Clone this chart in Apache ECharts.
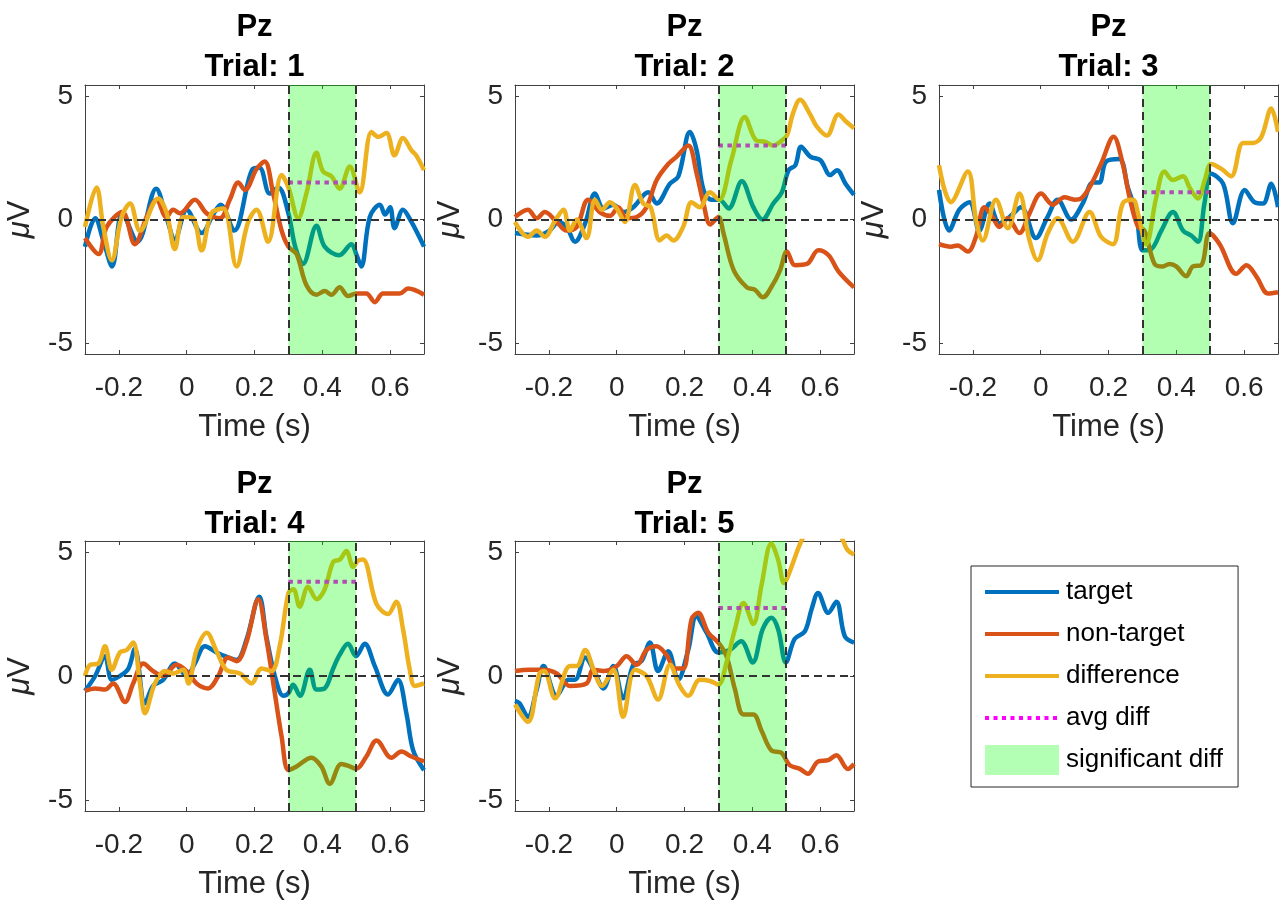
<!DOCTYPE html>
<html>
<head>
<meta charset="utf-8">
<script src="https://cdn.jsdelivr.net/npm/echarts@6/dist/echarts.min.js"></script>
<style>
html,body{margin:0;padding:0;background:#fff;}
#chart{width:1279px;height:901px;}
</style>
</head>
<body>
<div id="chart"></div>
<script>
// ---------------- data ----------------
const channelName = 'Pz';
const trialNumbers = [1, 2, 3, 4, 5];
const xRange = [-0.3, 0.7];
const yRange = [-5.45, 5.45];
const xTickValues = [-0.2, 0, 0.2, 0.4, 0.6];
const yTickValues = [-5, 0, 5];
const sigWindow = [0.3, 0.5];
const baselineValue = 0;
const avgDiff = [1.5, 3.0, 1.1, 3.8, 2.75];
const seriesNames = ['target', 'non-target', 'difference', 'avg diff', 'significant diff'];

const target1 = [[-0.3,-1.1],[-0.27,0.05],[-0.245,-0.9],[-0.22,-1.9],[-0.19,0.25],[-0.145,-0.9],[-0.09,1.25],[-0.06,0.1],[-0.035,-0.8],[0.0,0.4],[0.044,-0.55],[0.08,0.25],[0.1,0.6],[0.14,-0.45],[0.195,2.05],[0.215,2.1],[0.245,1.05],[0.27,1.3],[0.3,0.25],[0.32,-1.1],[0.343,-1.8],[0.383,-0.25],[0.407,-1.1],[0.45,-1.45],[0.486,-1.0],[0.5,-1.4],[0.515,-1.9],[0.54,0.1],[0.57,0.6],[0.585,0.2],[0.6,0.5],[0.613,-0.35],[0.638,0.4],[0.663,-0.1],[0.7,-1.1]];
const nonTarget1 = [[-0.3,-0.75],[-0.26,-1.4],[-0.236,-0.3],[-0.19,0.3],[-0.153,-1.0],[-0.118,0.1],[-0.089,0.8],[-0.06,0.1],[-0.04,0.4],[-0.02,0.25],[0.024,0.8],[0.059,0.25],[0.098,0.05],[0.127,0.8],[0.152,1.5],[0.172,1.2],[0.206,2.05],[0.23,2.35],[0.255,1.05],[0.28,-0.45],[0.3,-1.1],[0.324,-1.4],[0.353,-2.65],[0.383,-3.05],[0.407,-2.9],[0.427,-3.05],[0.451,-2.75],[0.476,-3.1],[0.5,-3.0],[0.53,-3.0],[0.555,-3.35],[0.579,-3.0],[0.628,-3.0],[0.653,-2.8],[0.7,-3.05]];
const diff1 = [[-0.3,-0.3],[-0.266,1.3],[-0.246,-0.3],[-0.221,-1.65],[-0.192,0.1],[-0.167,0.65],[-0.138,-0.45],[-0.084,0.85],[-0.059,0.25],[-0.035,-1.2],[-0.01,0.1],[0.019,0.05],[0.044,-1.25],[0.073,0.25],[0.108,0.45],[0.147,-1.9],[0.181,-0.1],[0.206,0.4],[0.24,-0.9],[0.28,1.8],[0.3,1.3],[0.329,0.05],[0.353,1.05],[0.383,2.7],[0.402,1.95],[0.427,1.75],[0.451,1.25],[0.481,2.15],[0.51,1.1],[0.545,3.55],[0.565,3.35],[0.589,3.5],[0.613,2.6],[0.638,3.3],[0.663,2.8],[0.677,2.6],[0.7,2.0]];

const target2 = [[-0.3,-0.55],[-0.236,-0.65],[-0.198,-0.45],[-0.172,-0.1],[-0.148,-0.3],[-0.123,-0.9],[-0.093,-0.15],[-0.064,1.05],[-0.039,0.45],[-0.01,0.6],[0.02,0.3],[0.049,0.5],[0.093,1.1],[0.118,0.65],[0.157,1.45],[0.182,1.75],[0.216,3.55],[0.236,2.8],[0.256,1.2],[0.28,0.8],[0.303,0.8],[0.33,0.45],[0.369,1.55],[0.403,0.5],[0.43,0.0],[0.462,0.65],[0.487,1.1],[0.507,2.0],[0.527,2.2],[0.544,2.95],[0.571,2.55],[0.601,2.4],[0.63,1.8],[0.65,2.0],[0.675,1.45],[0.7,1.0]];
const nonTarget2 = [[-0.3,0.1],[-0.262,0.4],[-0.236,0.05],[-0.212,0.3],[-0.177,-0.1],[-0.148,-0.45],[-0.118,-0.3],[-0.084,0.8],[-0.05,0.3],[-0.02,0.15],[0.005,0.5],[0.029,0.05],[0.059,0.1],[0.088,0.5],[0.118,1.6],[0.152,2.25],[0.177,2.55],[0.211,3.0],[0.236,1.85],[0.256,0.65],[0.276,-0.2],[0.3,0.1],[0.315,-0.55],[0.345,-2.05],[0.384,-2.75],[0.408,-2.85],[0.431,-3.15],[0.462,-2.6],[0.482,-2.05],[0.502,-1.3],[0.526,-1.85],[0.561,-1.8],[0.595,-1.25],[0.625,-1.45],[0.654,-2.1],[0.7,-2.75]];
const diff2 = [[-0.3,-0.1],[-0.262,-0.7],[-0.236,-0.45],[-0.212,-0.7],[-0.182,-0.05],[-0.157,0.4],[-0.138,-0.45],[-0.118,0.0],[-0.089,-0.75],[-0.064,0.8],[-0.044,0.4],[-0.02,0.7],[0.0,0.45],[0.024,-0.1],[0.054,1.4],[0.078,0.65],[0.1,0.5],[0.127,-0.85],[0.147,-0.65],[0.167,-0.85],[0.196,-0.3],[0.221,0.7],[0.245,0.5],[0.275,1.1],[0.302,0.8],[0.338,2.4],[0.378,4.15],[0.412,3.2],[0.437,3.15],[0.462,3.0],[0.482,3.15],[0.502,3.4],[0.52,4.3],[0.541,4.85],[0.571,4.25],[0.591,3.75],[0.62,3.4],[0.654,4.25],[0.678,3.95],[0.7,3.7]];

const target3 = [[-0.3,1.2],[-0.27,-0.45],[-0.24,0.4],[-0.21,0.7],[-0.181,-0.45],[-0.151,0.65],[-0.122,-0.15],[-0.092,0.1],[-0.058,0.5],[-0.014,-0.75],[0.02,0.1],[0.05,0.8],[0.09,0.0],[0.124,0.65],[0.154,1.5],[0.173,1.5],[0.193,2.35],[0.232,2.45],[0.257,1.3],[0.282,0.25],[0.301,-1.25],[0.326,-1.2],[0.356,-0.45],[0.39,0.3],[0.42,-0.45],[0.444,-0.65],[0.464,-0.9],[0.483,0.65],[0.503,1.85],[0.538,1.45],[0.567,-0.15],[0.602,1.2],[0.631,0.7],[0.656,0.65],[0.68,1.45],[0.7,0.5]];
const nonTarget3 = [[-0.3,-1.0],[-0.265,-1.1],[-0.245,-1.05],[-0.215,-1.3],[-0.191,-0.7],[-0.166,0.5],[-0.142,0.1],[-0.122,-0.3],[-0.097,0.05],[-0.063,-0.55],[-0.033,0.25],[0.001,1.05],[0.036,0.6],[0.07,0.9],[0.1,0.8],[0.119,0.85],[0.144,1.3],[0.178,2.25],[0.215,3.35],[0.242,2.25],[0.262,0.9],[0.287,-0.3],[0.306,-0.45],[0.336,-1.8],[0.36,-1.9],[0.38,-1.8],[0.4,-1.9],[0.429,-2.3],[0.449,-1.9],[0.474,-1.85],[0.498,-0.55],[0.528,-1.0],[0.577,-2.2],[0.607,-1.85],[0.636,-2.3],[0.671,-3.0],[0.7,-2.95]];
const diff3 = [[-0.3,2.2],[-0.265,0.7],[-0.215,1.95],[-0.191,0.0],[-0.171,-0.85],[-0.132,0.8],[-0.097,-0.35],[-0.063,1.05],[-0.033,-0.85],[-0.009,-1.65],[0.021,-0.55],[0.05,0.05],[0.095,-0.9],[0.144,0.3],[0.178,-0.7],[0.213,-1.0],[0.242,0.65],[0.272,0.8],[0.287,0.25],[0.311,-1.0],[0.341,0.9],[0.365,1.95],[0.39,1.6],[0.42,1.75],[0.439,1.3],[0.464,0.85],[0.484,1.6],[0.503,2.25],[0.533,2.05],[0.562,1.75],[0.597,3.1],[0.626,3.1],[0.651,3.35],[0.68,4.5],[0.7,3.55]];

const target4 = [[-0.3,-0.6],[-0.27,0.0],[-0.241,0.8],[-0.221,-0.15],[-0.197,0.0],[-0.172,0.3],[-0.153,1.1],[-0.123,-1.1],[-0.099,-0.4],[-0.069,-0.15],[-0.035,0.5],[0.0,0.0],[0.024,0.5],[0.054,1.2],[0.088,0.95],[0.113,0.8],[0.147,0.65],[0.176,1.45],[0.214,3.2],[0.235,1.6],[0.26,0.0],[0.285,-0.8],[0.3,-0.7],[0.314,-0.35],[0.334,-0.8],[0.363,0.25],[0.383,-0.55],[0.407,-0.5],[0.432,0.3],[0.451,0.85],[0.476,1.3],[0.499,0.8],[0.525,1.3],[0.555,0.4],[0.594,-0.75],[0.623,-0.15],[0.648,-1.5],[0.668,-3.0],[0.7,-3.8]];
const nonTarget4 = [[-0.3,-0.6],[-0.27,-0.5],[-0.241,-0.55],[-0.217,-0.3],[-0.182,-1.05],[-0.158,-0.3],[-0.128,0.5],[-0.099,0.2],[-0.069,0.0],[-0.03,0.45],[0.0,0.2],[0.029,-0.3],[0.063,-0.5],[0.093,0.0],[0.122,0.75],[0.147,0.6],[0.176,1.35],[0.211,3.1],[0.235,1.5],[0.26,-0.7],[0.28,-2.45],[0.3,-3.8],[0.324,-3.65],[0.368,-3.3],[0.397,-3.65],[0.422,-4.35],[0.456,-3.55],[0.481,-3.65],[0.499,-3.75],[0.53,-3.25],[0.56,-2.6],[0.604,-3.3],[0.633,-3.05],[0.663,-3.25],[0.7,-3.45]];
const diff4 = [[-0.3,0.0],[-0.285,0.45],[-0.261,0.5],[-0.241,1.2],[-0.221,0.25],[-0.197,0.95],[-0.177,1.05],[-0.158,1.35],[-0.138,-0.3],[-0.123,-1.5],[-0.094,-0.3],[-0.064,0.2],[-0.04,0.1],[-0.01,0.25],[0.005,-0.3],[0.029,1.05],[0.059,1.75],[0.088,1.0],[0.117,0.25],[0.157,0.1],[0.191,-0.3],[0.221,0.3],[0.25,0.2],[0.275,1.25],[0.3,3.35],[0.315,3.5],[0.333,2.8],[0.358,3.6],[0.383,3.1],[0.407,3.5],[0.432,4.6],[0.452,4.7],[0.471,5.05],[0.491,4.4],[0.505,4.65],[0.52,4.7],[0.56,2.9],[0.594,2.5],[0.618,3.0],[0.638,1.9],[0.658,0.25],[0.673,-0.4],[0.7,-0.3]];

const target5 = [[-0.3,-1.0],[-0.287,-1.1],[-0.262,-1.65],[-0.236,-0.55],[-0.216,0.4],[-0.177,-0.8],[-0.142,-0.15],[-0.123,-0.15],[-0.093,0.75],[-0.068,0.25],[-0.039,-0.5],[-0.01,0.4],[0.019,-0.9],[0.049,0.45],[0.073,0.6],[0.098,1.35],[0.122,0.2],[0.152,1.0],[0.181,-0.15],[0.211,1.05],[0.235,2.4],[0.265,1.75],[0.3,0.95],[0.333,1.05],[0.367,1.4],[0.401,0.55],[0.431,1.9],[0.456,2.35],[0.476,1.9],[0.499,0.55],[0.525,1.5],[0.555,1.8],[0.575,2.7],[0.594,3.35],[0.624,2.55],[0.648,3.0],[0.673,1.6],[0.7,1.35]];
const nonTarget5 = [[-0.3,0.2],[-0.258,0.25],[-0.218,0.25],[-0.177,0.1],[-0.138,-0.4],[-0.089,-0.3],[-0.069,0.25],[-0.039,0.2],[0.0,0.4],[0.029,0.8],[0.059,0.45],[0.088,1.05],[0.117,1.2],[0.147,0.85],[0.172,0.3],[0.196,0.3],[0.221,2.3],[0.24,2.55],[0.27,1.75],[0.3,1.35],[0.324,0.8],[0.349,-0.55],[0.374,-1.55],[0.403,-1.55],[0.427,-2.2],[0.456,-3.0],[0.486,-3.1],[0.51,-3.6],[0.54,-3.75],[0.564,-3.95],[0.594,-3.45],[0.624,-3.4],[0.648,-3.2],[0.682,-3.75],[0.7,-3.55]];
const diff5 = [[-0.3,-1.15],[-0.262,-1.85],[-0.228,0.1],[-0.214,0.2],[-0.182,-0.9],[-0.138,0.4],[-0.118,0.4],[-0.093,1.05],[-0.068,0.25],[-0.044,-0.4],[-0.01,0.25],[0.019,-1.65],[0.054,0.25],[0.088,0.0],[0.122,-0.95],[0.157,0.45],[0.186,-0.4],[0.211,-0.8],[0.245,-0.15],[0.275,-0.2],[0.3,-0.35],[0.324,0.55],[0.349,1.9],[0.374,2.95],[0.403,2.1],[0.427,3.65],[0.456,5.35],[0.476,4.7],[0.494,3.75],[0.51,4.2],[0.54,5.3],[0.56,5.8],[0.6,6.2],[0.64,6.0],[0.663,5.6],[0.68,5.1],[0.7,4.9]];

// ---------------- build ----------------
const targets = [target1, target2, target3, target4, target5];
const nonTargets = [nonTarget1, nonTarget2, nonTarget3, nonTarget4, nonTarget5];
const diffs = [diff1, diff2, diff3, diff4, diff5];

const FONT = "'Liberation Sans', Arial, Helvetica, sans-serif";
const AX = '#404040';
const TXT = '#262626';
const COL = { target: '#0072BD', nonTarget: '#D95319', diff: '#EDB120', avg: '#FF00FF', sig: '#B3FFB3' };

const gridBoxes = [
  { left: 85, top: 85, width: 339, height: 269 },
  { left: 515, top: 85, width: 339, height: 269 },
  { left: 939, top: 85, width: 339, height: 269 },
  { left: 85, top: 541, width: 339, height: 270 },
  { left: 515, top: 541, width: 339, height: 270 }
];
const titleTops = [7, 7, 7, 464, 464];

const grid = [], xAxis = [], yAxis = [], series = [], title = [];

gridBoxes.forEach((g, i) => {
  grid.push(Object.assign({ containLabel: false, outerBoundsMode: 'none' }, g));
  title.push({
    text: channelName + '\nTrial: ' + trialNumbers[i],
    left: g.left + g.width / 2, top: titleTops[i], textAlign: 'center', padding: 0,
    textStyle: { fontSize: 31, fontWeight: 'bold', color: '#000', lineHeight: 40, fontFamily: FONT }
  });
  xAxis.push({
    gridIndex: i, type: 'value', position: 'bottom', min: xRange[0], max: xRange[1],
    axisLine: { show: true, onZero: false, lineStyle: { color: AX, width: 1 } },
    axisTick: { show: true, inside: true, length: 4, customValues: xTickValues, lineStyle: { color: AX } },
    axisLabel: { show: true, customValues: xTickValues, fontSize: 28, color: TXT, margin: 20, fontFamily: FONT },
    splitLine: { show: false },
    name: 'Time (s)', nameLocation: 'middle', nameGap: 58,
    nameTextStyle: { fontSize: 31, color: TXT, fontFamily: FONT }
  });
  xAxis.push({
    gridIndex: i, type: 'value', position: 'top', min: xRange[0], max: xRange[1],
    axisLine: { show: true, onZero: false, lineStyle: { color: AX, width: 1 } },
    axisTick: { show: true, inside: true, length: 4, customValues: xTickValues, lineStyle: { color: AX } },
    axisLabel: { show: false }, splitLine: { show: false }
  });
  yAxis.push({
    gridIndex: i, type: 'value', position: 'left', min: yRange[0], max: yRange[1],
    axisLine: { show: true, onZero: false, lineStyle: { color: AX, width: 1 } },
    axisTick: { show: true, inside: true, length: 4, customValues: yTickValues, lineStyle: { color: AX } },
    axisLabel: { show: true, customValues: yTickValues, fontSize: 28, color: TXT, margin: 12, fontFamily: FONT },
    splitLine: { show: false },
    name: '{i|μ}V', nameLocation: 'middle', nameGap: 49,
    nameTextStyle: { fontSize: 31, color: TXT, fontFamily: FONT,
      rich: { i: { fontSize: 31, fontStyle: 'italic', color: TXT, fontFamily: FONT } } }
  });
  yAxis.push({
    gridIndex: i, type: 'value', position: 'right', min: yRange[0], max: yRange[1],
    axisLine: { show: true, onZero: false, lineStyle: { color: AX, width: 1 } },
    axisTick: { show: true, inside: true, length: 4, customValues: yTickValues, lineStyle: { color: AX } },
    axisLabel: { show: false }, splitLine: { show: false }
  });

  const xi = 2 * i, yi = 2 * i;
  const mkLine = (name, data, color) => ({
    name, type: 'line', xAxisIndex: xi, yAxisIndex: yi, data,
    symbol: 'none', showSymbol: false, smooth: 0.35, clip: true, z: 2,
    lineStyle: { width: 4.5, color }, itemStyle: { color },
    emphasis: { disabled: true }, silent: true
  });
  series.push(mkLine(seriesNames[0], targets[i], COL.target));
  series.push(mkLine(seriesNames[1], nonTargets[i], COL.nonTarget));
  series.push(mkLine(seriesNames[2], diffs[i], COL.diff));
  series.push({
    name: seriesNames[3], type: 'line', xAxisIndex: xi, yAxisIndex: yi,
    data: [[sigWindow[0], avgDiff[i]], [sigWindow[1], avgDiff[i]]],
    symbol: 'none', showSymbol: false, z: 3, silent: true,
    lineStyle: { width: 4, color: COL.avg, type: [4.5, 4.5], cap: 'butt' },
    itemStyle: { color: COL.avg }, emphasis: { disabled: true }
  });
  series.push({
    name: seriesNames[4], type: 'line', xAxisIndex: xi, yAxisIndex: yi, data: [],
    symbol: 'none', z: 4, silent: true,
    itemStyle: { color: COL.sig }, lineStyle: { color: COL.sig },
    markArea: {
      silent: true, z: 4,
      itemStyle: { color: 'rgba(0,255,0,0.3)', borderWidth: 0 },
      label: { show: false },
      data: [[{ xAxis: sigWindow[0] }, { xAxis: sigWindow[1] }]]
    },
    markLine: {
      silent: true, z: 6, symbol: ['none', 'none'], animation: false,
      label: { show: false },
      lineStyle: { type: [8, 5], color: '#333', width: 2 },
      emphasis: { disabled: true },
      data: [{ yAxis: baselineValue }, { xAxis: sigWindow[0] }, { xAxis: sigWindow[1] }]
    }
  });
});

const lineIcon = 'path://M0,0M74,30M0,13h74v4h-74z';
const dotIcon = 'path://M0,0M74,30M0,13h4v4h-4zM8.5,13h4v4h-4zM17,13h4v4h-4zM25.5,13h4v4h-4zM34,13h4v4h-4zM42.5,13h4v4h-4zM51,13h4v4h-4zM59.5,13h4v4h-4zM68,13h4v4h-4z';

const option = {
  animation: false,
  backgroundColor: '#fff',
  textStyle: { fontFamily: FONT },
  title,
  grid, xAxis, yAxis, series,
  legend: {
    show: true, orient: 'vertical', left: 971, top: 566,
    padding: [11, 15, 12, 14], itemGap: 12, itemWidth: 74, itemHeight: 30,
    borderColor: '#262626', borderWidth: 1, backgroundColor: '#fff',
    selectedMode: false,
    itemStyle: { borderWidth: 0 },
    textStyle: { fontSize: 26, color: '#000', fontFamily: FONT, padding: [0, 0, 0, 2] },
    data: [
      { name: seriesNames[0], icon: lineIcon },
      { name: seriesNames[1], icon: lineIcon },
      { name: seriesNames[2], icon: lineIcon },
      { name: seriesNames[3], icon: dotIcon },
      { name: seriesNames[4], icon: 'rect' }
    ]
  }
};

const chart = echarts.init(document.getElementById('chart'), null, { renderer: 'canvas' });
chart.setOption(option);
</script>
</body>
</html>
